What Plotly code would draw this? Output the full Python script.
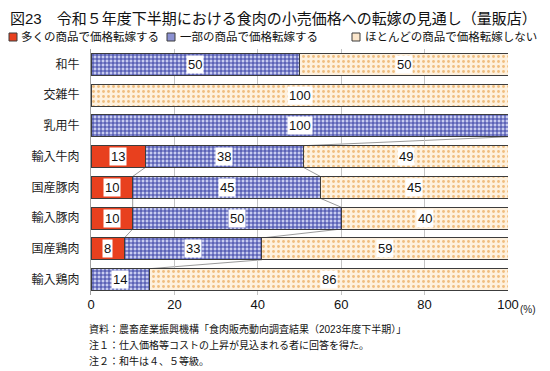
import plotly.graph_objects as go

categories = ["和牛", "交雑牛", "乳用牛", "輸入牛肉", "国産豚肉", "輸入豚肉", "国産鶏肉", "輸入鶏肉"]
many = [0, 0, 0, 13, 10, 10, 8, 0]        # 多くの商品で価格転嫁する
some = [50, 0, 100, 38, 45, 50, 33, 14]   # 一部の商品で価格転嫁する
few = [50, 100, 0, 49, 45, 40, 59, 86]    # ほとんどの商品で価格転嫁しない
series_names = ["多くの商品で価格転嫁する", "一部の商品で価格転嫁する", "ほとんどの商品で価格転嫁しない"]
x_ticks = [0, 20, 40, 60, 80, 100]

title_text = "図23　令和５年度下半期における食肉の小売価格への転嫁の見通し（量販店）"
notes = [
    "資料：農畜産業振興機構「食肉販売動向調査結果（2023年度下半期）」",
    "注１：仕入価格等コストの上昇が見込まれる者に回答を得た。",
    "注２：和牛は４、５等級。",
]

FONT = "Liberation Sans, 'Noto Sans CJK JP', sans-serif"
OFF = 8  # page body margin
W, H = 550 - OFF, 371 - OFF
PL, PR, PT, PB = 91, 508, 49, 295   # plot area in window pixels
L, T = PL - OFF, PT - OFF
R, B = W - (PR - OFF), H - (PB - OFF)
PW, PH = PR - PL, PB - PT
BARGAP = 0.29

def fx(px):
    return (px - PL) / PW

def fy(py):
    return (PB - py) / PH

RED = "#e8401e"
OUTLINE = "#3c3c3c"

fig = go.Figure()
fig.add_trace(go.Bar(
    y=categories, x=many, orientation="h", name=series_names[0],
    marker=dict(color=RED, line=dict(color=OUTLINE, width=1)),
))
fig.add_trace(go.Bar(
    y=categories, x=some, orientation="h", name=series_names[1],
    marker=dict(color="#c8ccf0", line=dict(color=OUTLINE, width=1),
                pattern=dict(shape="+", fgcolor="#3a42a6", bgcolor="#c8ccf0",
                             size=4, solidity=0.45, fillmode="replace")),
))
fig.add_trace(go.Bar(
    y=categories, x=few, orientation="h", name=series_names[2],
    marker=dict(color="#fef1de", line=dict(color=OUTLINE, width=1),
                pattern=dict(shape=".", fgcolor="#f0bd7e", bgcolor="#fef1de",
                             size=5, solidity=0.25, fillmode="replace")),
))

# value labels (white boxes) centered in each segment
annotations = []
for i, cat in enumerate(categories):
    start = 0
    for vals in (many, some, few):
        v = vals[i]
        if v > 0:
            annotations.append(dict(
                x=start + v / 2, y=cat, xref="x", yref="y", text=str(v),
                showarrow=False, bgcolor="white", borderpad=1,
                font=dict(family=FONT, size=13, color="#111111"),
            ))
        start += v

# series lines between adjacent bars (cumulative ends of series)
half = (1 - BARGAP) / 2
shapes = []
cum_red = list(many)
cum_blue = [many[i] + some[i] for i in range(len(categories))]
for s_vals, cum in ((many, cum_red), (some, cum_blue)):
    for i in range(len(categories) - 1):
        if s_vals[i] > 0 and s_vals[i + 1] > 0:
            shapes.append(dict(
                type="line", xref="x", yref="y",
                x0=cum[i], y0=i + half, x1=cum[i + 1], y1=i + 1 - half,
                line=dict(color="#808080", width=0.8), layer="below",
            ))

# custom legend
legend_items = [
    (9, 19, RED, series_names[0]),
    (167, 178, "#8b91d2", series_names[1]),
    (352, 363, "#fbe6cb", series_names[2]),
]
for sx, tx, col, name in legend_items:
    shapes.append(dict(
        type="rect", xref="paper", yref="paper",
        x0=fx(sx), x1=fx(sx + 8), y0=fy(41), y1=fy(33),
        fillcolor=col, line=dict(color=OUTLINE, width=1),
    ))
    annotations.append(dict(
        x=fx(tx), y=fy(37), xref="paper", yref="paper", xanchor="left", yanchor="middle",
        text=name, showarrow=False, font=dict(family=FONT, size=11.5, color="#111111"),
    ))

# title
annotations.append(dict(
    x=fx(9), y=fy(9), xref="paper", yref="paper", xanchor="left", yanchor="top",
    text=title_text, showarrow=False, borderpad=0,
    font=dict(family=FONT, size=15, color="#111111"),
))

# (%) unit
annotations.append(dict(
    x=fx(518), y=fy(309), xref="paper", yref="paper", xanchor="left", yanchor="middle",
    text="(%)", showarrow=False, font=dict(family=FONT, size=10, color="#222222"),
))

# footnotes
for k, note in enumerate(notes):
    annotations.append(dict(
        x=fx(87), y=fy(329 + 16 * k), xref="paper", yref="paper", xanchor="left", yanchor="middle",
        text=note, showarrow=False, font=dict(family=FONT, size=10, color="#111111"),
    ))

fig.update_layout(
    width=W, height=H, margin=dict(l=L, r=R, t=T, b=B),
    barmode="stack", bargap=BARGAP, showlegend=False,
    plot_bgcolor="white", paper_bgcolor="white",
    font=dict(family=FONT, color="#222222"),
    annotations=annotations, shapes=shapes,
    xaxis=dict(range=[0, 100], tickvals=x_ticks, showgrid=True, gridcolor="#c4c4c4",
               gridwidth=1, zeroline=False, showline=False, ticks="",
               tickfont=dict(family=FONT, size=13, color="#111111")),
    yaxis=dict(autorange="reversed", showgrid=False, showline=True, linecolor="#a0a0a0",
               ticks="", ticklabelstandoff=8,
               tickfont=dict(family=FONT, size=12, color="#222222")),
)

fig.write_html("out.html")
